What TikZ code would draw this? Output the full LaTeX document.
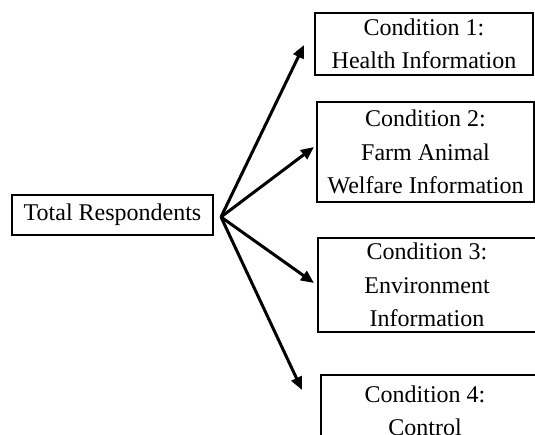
\documentclass[tikz,border=0pt]{standalone}
\usepackage{fontspec}
\setmainfont{Liberation Serif}
\usetikzlibrary{arrows.meta}

\begin{document}
\begin{tikzpicture}[x=1pt, y=-1pt,
    cond/.style={draw, line width=2pt, align=center, inner sep=3pt,
        font=\fontsize{24}{33.5}\selectfont},
    link/.style={line width=3pt, -{Triangle[length=13pt,width=11pt]}}]
    \useasboundingbox (0,0) rectangle (535,435);
    \clip (0,0) rectangle (535,435);
    % Respondents
    \node[cond, minimum width=201pt, minimum height=40pt] (total) at (112.5,215) {Total Respondents};
    \coordinate (hub) at ([xshift=7pt,yshift=-2pt]total.east);
    
    % Conditions
    \node[cond, minimum width=218pt, minimum height=62pt] (cond1) at (424,44) {Condition 1:\\Health Information};
    \node[cond, minimum width=217pt, minimum height=100pt] (cond2) at (425.5,152) {Condition 2:\\Farm Animal\\Welfare Information};
    \node[cond, minimum width=218pt, minimum height=94pt] (cond3) at (427,285) {Condition 3:\\Environment\\Information};
    \node[cond, draw=none, anchor=north] (cond4) at (425,381.5) {Condition 4:\\Control};
    \draw[line width=2pt] ([shift={(-104pt,6.5pt)}]cond4.north) rectangle ++(240,100);
    
    % Arrows
    \draw[link] (hub) -- ([xshift=-10pt,yshift=-1pt]cond1.west);
    \draw[link] (hub) -- ([xshift=-2pt,yshift=5pt]cond2.west);
    \draw[link] (hub) -- ([xshift=-3pt,yshift=2pt]cond3.west);
    \coordinate (tip4) at (302,390);
    \draw[link] (hub) -- (tip4);
\end{tikzpicture}
\end{document}
